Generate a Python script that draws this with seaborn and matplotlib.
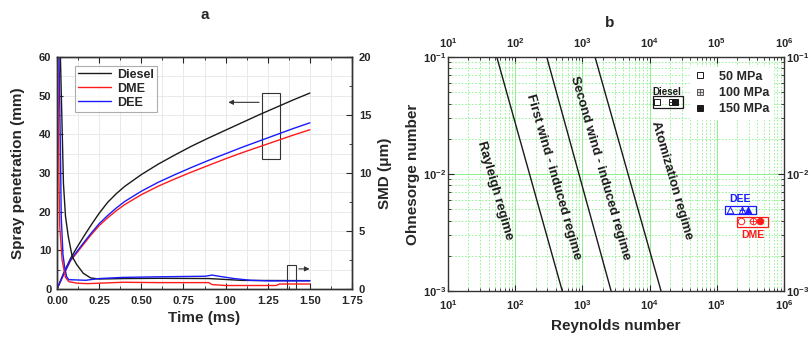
import numpy as np
import pandas as pd
import matplotlib
matplotlib.use("Agg")
import matplotlib.pyplot as plt
import seaborn as sns
from matplotlib.patches import Rectangle
from matplotlib.lines import Line2D
from matplotlib.legend_handler import HandlerTuple
from matplotlib.ticker import MultipleLocator, LogLocator, NullFormatter

sns.set_style("ticks")
plt.rcParams['font.family'] = ['Liberation Sans', 'DejaVu Sans']
plt.rcParams['font.weight'] = 'bold'
plt.rcParams['mathtext.fontset'] = 'custom'
plt.rcParams['mathtext.rm'] = 'Liberation Sans:bold'
plt.rcParams['mathtext.it'] = 'Liberation Sans:bold'
plt.rcParams['mathtext.bf'] = 'Liberation Sans:bold'
plt.rcParams['mathtext.default'] = 'rm'

# ---------------- data: panel a ----------------
fuels = ["Diesel", "DME", "DEE"]
fuel_colors = {"Diesel": "#1a1a1a", "DME": "#ff1a1a", "DEE": "#1a1aff"}

time_pen = [0, 0.04, 0.08, 0.12, 0.16, 0.20, 0.25, 0.30, 0.35, 0.40, 0.50, 0.60, 0.70,
            0.80, 0.90, 1.00, 1.10, 1.20, 1.30, 1.40, 1.50]
pen_diesel = [0, 4.2, 7.9, 10.9, 13.7, 16.4, 19.6, 22.4, 24.6, 26.5, 29.6, 32.3, 34.7,
              37.0, 39.1, 41.1, 43.1, 45.1, 47.0, 48.9, 50.7]
pen_dme = [0, 3.8, 7.3, 9.5, 11.7, 13.9, 16.4, 18.4, 20.2, 21.8, 24.4, 26.6, 28.5,
           30.3, 32.0, 33.7, 35.3, 36.8, 38.3, 39.8, 41.2]
pen_dee = [0, 3.9, 7.5, 9.8, 12.1, 14.3, 16.9, 19.0, 20.9, 22.6, 25.3, 27.6, 29.6,
           31.5, 33.3, 35.0, 36.7, 38.3, 39.9, 41.5, 43.0]

time_smd_diesel = [0.016, 0.020, 0.030, 0.038, 0.050, 0.067, 0.090, 0.117, 0.156, 0.20,
                   0.25, 0.40, 0.60, 0.90, 1.00, 1.10, 1.50]
smd_diesel = [30, 20, 14, 9.1, 6.3, 4.5, 2.8, 2.1, 1.35, 0.95,
              0.86, 0.90, 0.92, 0.90, 0.82, 0.74, 0.72]
time_smd_dme = [0.0, 0.005, 0.012, 0.016, 0.030, 0.050, 0.070, 0.120, 0.180, 0.25,
                0.39, 0.60, 0.90, 0.92, 1.00, 1.30, 1.32, 1.50]
smd_dme = [30, 20, 9.0, 5.4, 2.5, 1.0, 0.63, 0.50, 0.46, 0.50,
           0.58, 0.55, 0.55, 0.38, 0.30, 0.30, 0.43, 0.43]
time_smd_dee = [0.008, 0.012, 0.020, 0.025, 0.035, 0.045, 0.057, 0.070, 0.120, 0.170,
                0.25, 0.39, 0.60, 0.88, 0.92, 0.96, 1.05, 1.15, 1.25, 1.50]
smd_dee = [30, 20, 12, 6.2, 3.0, 1.9, 1.06, 0.80, 0.78, 0.75,
           0.90, 1.00, 1.05, 1.10, 1.20, 1.10, 0.90, 0.75, 0.70, 0.70]

# ---------------- data: panel b ----------------
regime_oh = [1e-1, 1e-3]
boundary_re_top = [53, 294, 1540]
boundary_re_bottom = [500, 2670, 14800]

regime_labels = ["Rayleigh regime", "First wind - induced regime",
                 "Second wind - induced regime", "Atomization regime"]
regime_label_re = [50, 369, 1828, 21300]
regime_label_oh = [0.0073, 0.0095, 0.0112, 0.0089]

pressures = ["50 MPa", "100 MPa", "150 MPa"]
re_diesel = [1.29e4, 2.14e4, 2.40e4]
oh_diesel = [0.041, 0.041, 0.041]
re_dee = [1.57e5, 2.35e5, 2.94e5]
oh_dee = [0.0049, 0.0049, 0.0049]
re_dme = [2.3e5, 3.5e5, 4.4e5]
oh_dme = [0.0040, 0.0040, 0.0040]

# ---------------- figure ----------------
fig = plt.figure(figsize=(8.09, 3.38), dpi=100)
ax = fig.add_axes([0.0705, 0.145, 0.3646, 0.686])
ax2 = ax.twinx()

tick_fs = 8
lab_fs = 10

pen_df = pd.DataFrame({"t": time_pen * 3,
                       "pen": pen_diesel + pen_dme + pen_dee,
                       "fuel": ["Diesel"] * len(time_pen) + ["DME"] * len(time_pen) + ["DEE"] * len(time_pen)})
sns.lineplot(data=pen_df, x="t", y="pen", hue="fuel", hue_order=fuels,
             palette=fuel_colors, ax=ax, lw=1.0, legend=False, sort=False)

for name, tt, vv in [("Diesel", time_smd_diesel, smd_diesel),
                     ("DME", time_smd_dme, smd_dme),
                     ("DEE", time_smd_dee, smd_dee)]:
    sns.lineplot(x=tt, y=vv, ax=ax2, color=fuel_colors[name], lw=1.0, sort=False)

ax.set_xlim(0, 1.75)
ax.set_ylim(0, 60)
ax2.set_ylim(0, 20)
ax.xaxis.set_major_locator(MultipleLocator(0.25))
ax.xaxis.set_minor_locator(MultipleLocator(0.125))
ax.yaxis.set_major_locator(MultipleLocator(10))
ax.yaxis.set_minor_locator(MultipleLocator(5))
ax2.yaxis.set_major_locator(MultipleLocator(5))
ax2.yaxis.set_minor_locator(MultipleLocator(2.5))
ax.xaxis.set_major_formatter(matplotlib.ticker.FormatStrFormatter('%.2f'))
ax.grid(True, which='both', color='#e6e6e6', lw=0.6)
ax.set_axisbelow(True)
ax.tick_params(which='both', direction='in', top=True, labelsize=tick_fs)
ax.tick_params(axis='x', pad=5)
ax.tick_params(axis='y', pad=4)
ax.tick_params(which='major', length=4)
ax.tick_params(which='minor', length=2)
ax2.tick_params(which='both', direction='in', labelsize=tick_fs, pad=5)
ax2.tick_params(which='major', length=4)
ax2.tick_params(which='minor', length=2)
for a in (ax, ax2):
    for s in a.spines.values():
        s.set_color('#333333')
        s.set_linewidth(1.0)
    for lbl in a.get_xticklabels() + a.get_yticklabels():
        lbl.set_fontweight('bold')
ax.set_xlabel("Time (ms)", fontsize=lab_fs + 1, fontweight='bold', labelpad=4)
ax.set_ylabel("Spray penetration (mm)", fontsize=lab_fs + 1, fontweight='bold', labelpad=10)
ax2.set_ylabel("SMD (\u03bcm)", fontsize=lab_fs + 1, fontweight='bold', labelpad=5)

handles = [Line2D([], [], color=fuel_colors[f], lw=1.0) for f in fuels]
leg = ax.legend(handles, fuels, loc='upper left', bbox_to_anchor=(0.04, 0.99),
                prop={'weight': 'bold', 'size': 9}, frameon=True, fancybox=False,
                handlelength=2.6, borderpad=0.25, labelspacing=0.15, handletextpad=0.5)
leg.get_frame().set_edgecolor('#999999')
leg.get_frame().set_linewidth(0.8)

# annotation boxes and arrows
rect_pen_t = (1.215, 1.320)
rect_pen_v = (33.7, 50.8)
ax.add_patch(Rectangle((rect_pen_t[0], rect_pen_v[0]), rect_pen_t[1] - rect_pen_t[0],
                       rect_pen_v[1] - rect_pen_v[0], fill=False, ec='#333333', lw=0.8))
ax.annotate("", xy=(1.0, 48.3), xytext=(rect_pen_t[0], 48.3),
            arrowprops=dict(arrowstyle='-|>', color='#333333', lw=0.8, mutation_scale=7))
rect_smd_t = (1.365, 1.418)
rect_smd_v = (0.0, 6.1)
ax.add_patch(Rectangle((rect_smd_t[0], rect_smd_v[0]), rect_smd_t[1] - rect_smd_t[0],
                       rect_smd_v[1] - rect_smd_v[0], fill=False, ec='#333333', lw=0.8,
                       clip_on=False))
ax.annotate("", xy=(1.515, 5.2), xytext=(rect_smd_t[1], 5.2),
            arrowprops=dict(arrowstyle='-|>', color='#333333', lw=0.8, mutation_scale=7))

fig.text(0.253, 0.955, "a", fontsize=11, fontweight='bold', ha='center', va='center')

# ---------------- panel b ----------------
bx = fig.add_axes([0.554, 0.139, 0.415, 0.692])
bx.set_xscale('log')
bx.set_yscale('log')
bx.set_xlim(10, 1e6)
bx.set_ylim(1e-3, 1e-1)

green = '#8cf08c'
bx.grid(True, which='major', color=green, lw=0.7, ls='-')
bx.grid(True, which='minor', color=green, lw=0.6, ls=(0, (2, 2)))
bx.set_axisbelow(True)

for rt, rb in zip(boundary_re_top, boundary_re_bottom):
    sns.lineplot(x=[rt, rb], y=regime_oh, ax=bx, color='#1a1a1a', lw=1.0, sort=False)

for lbl, rx, oy in zip(regime_labels, regime_label_re, regime_label_oh):
    bx.text(rx, oy, lbl, rotation=-74, rotation_mode='anchor', ha='center', va='center',
            fontsize=9.5, fontweight='bold', color='#1a1a1a')

mk_size = 22
def draw_group(re, oh, marker, color):
    # 50 MPa open, 100 MPa crossed, 150 MPa filled
    sns.scatterplot(x=[re[0]], y=[oh[0]], ax=bx, marker=marker, s=mk_size,
                    facecolor='white', edgecolor=color, linewidth=0.7, zorder=5)
    sns.scatterplot(x=[re[1]], y=[oh[1]], ax=bx, marker=marker, s=mk_size,
                    facecolor='white', edgecolor=color, linewidth=0.7, zorder=5)
    sns.scatterplot(x=[re[1]], y=[oh[1]], ax=bx, marker='+', s=mk_size,
                    color=color, linewidth=0.6, zorder=6)
    sns.scatterplot(x=[re[2]], y=[oh[2]], ax=bx, marker=marker, s=mk_size,
                    facecolor=color, edgecolor=color, linewidth=0.7, zorder=7)

draw_group(re_diesel, oh_diesel, 's', '#1a1a1a')
draw_group(re_dee, oh_dee, '^', '#1a1aff')
draw_group(re_dme, oh_dme, 'o', '#ff1a1a')

def group_box(x0, x1, y0, y1, color):
    bx.add_patch(Rectangle((x0, y0), x1 - x0, y1 - y0, fill=False, ec=color, lw=0.9, zorder=4))

group_box(1.11e4, 3.17e4, 0.0365, 0.0464, '#1a1a1a')
group_box(1.33e5, 3.79e5, 0.00452, 0.00532, '#1a1aff')
group_box(2.02e5, 5.85e5, 0.00355, 0.00427, '#ff1a1a')
bx.text(1.8e4, 0.0505, "Diesel", fontsize=7, fontweight='bold', ha='center', va='center', color='#1a1a1a')
bx.text(2.21e5, 0.00608, "DEE", fontsize=7.5, fontweight='bold', ha='center', va='center', color='#1a1aff')
bx.text(3.49e5, 0.00301, "DME", fontsize=7.5, fontweight='bold', ha='center', va='center', color='#ff1a1a')

lh_open = Line2D([], [], ls='none', marker='s', ms=4.5, mfc='white', mec='#1a1a1a', mew=0.7)
lh_cross_a = Line2D([], [], ls='none', marker='s', ms=4.5, mfc='#e0e0e0', mec='#555555', mew=0.7)
lh_cross_b = Line2D([], [], ls='none', marker='+', ms=4.5, mec='#555555', mew=0.6)
lh_full = Line2D([], [], ls='none', marker='s', ms=4.5, mfc='#1a1a1a', mec='#1a1a1a', mew=0.7)
legb = bx.legend([lh_open, (lh_cross_a, lh_cross_b), lh_full], pressures,
                 handler_map={tuple: HandlerTuple(ndivide=1, pad=0)},
                 loc='upper right', bbox_to_anchor=(0.985, 0.985),
                 prop={'weight': 'bold', 'size': 9}, frameon=True, fancybox=False,
                 handlelength=1.0, borderpad=0.3, labelspacing=0.35, handletextpad=1.0)
legb.get_frame().set_edgecolor('white')
legb.get_frame().set_facecolor('white')
legb.get_frame().set_alpha(1.0)

bx.xaxis.set_major_locator(LogLocator(base=10, numticks=10))
bx.xaxis.set_minor_locator(LogLocator(base=10, subs=np.arange(2, 10), numticks=20))
bx.yaxis.set_major_locator(LogLocator(base=10, numticks=10))
bx.yaxis.set_minor_locator(LogLocator(base=10, subs=np.arange(2, 10), numticks=20))
bx.xaxis.set_minor_formatter(NullFormatter())
bx.yaxis.set_minor_formatter(NullFormatter())
bx.tick_params(which='both', direction='in', top=True, right=True,
               labeltop=True, labelright=True, labelsize=tick_fs)
bx.tick_params(axis='x', pad=5)
bx.tick_params(axis='y', pad=1.5)
bx.tick_params(which='major', length=4)
bx.tick_params(which='minor', length=2)
for s in bx.spines.values():
    s.set_color('#333333')
    s.set_linewidth(1.0)
bx.set_xlabel("Reynolds number", fontsize=lab_fs + 1, fontweight='bold', labelpad=5)
bx.set_ylabel("Ohnesorge number", fontsize=lab_fs + 1, fontweight='bold', labelpad=2)

fig.text(0.754, 0.932, "b", fontsize=11, fontweight='bold', ha='center', va='center')

fig.savefig("out.png", dpi=100, facecolor='white')
